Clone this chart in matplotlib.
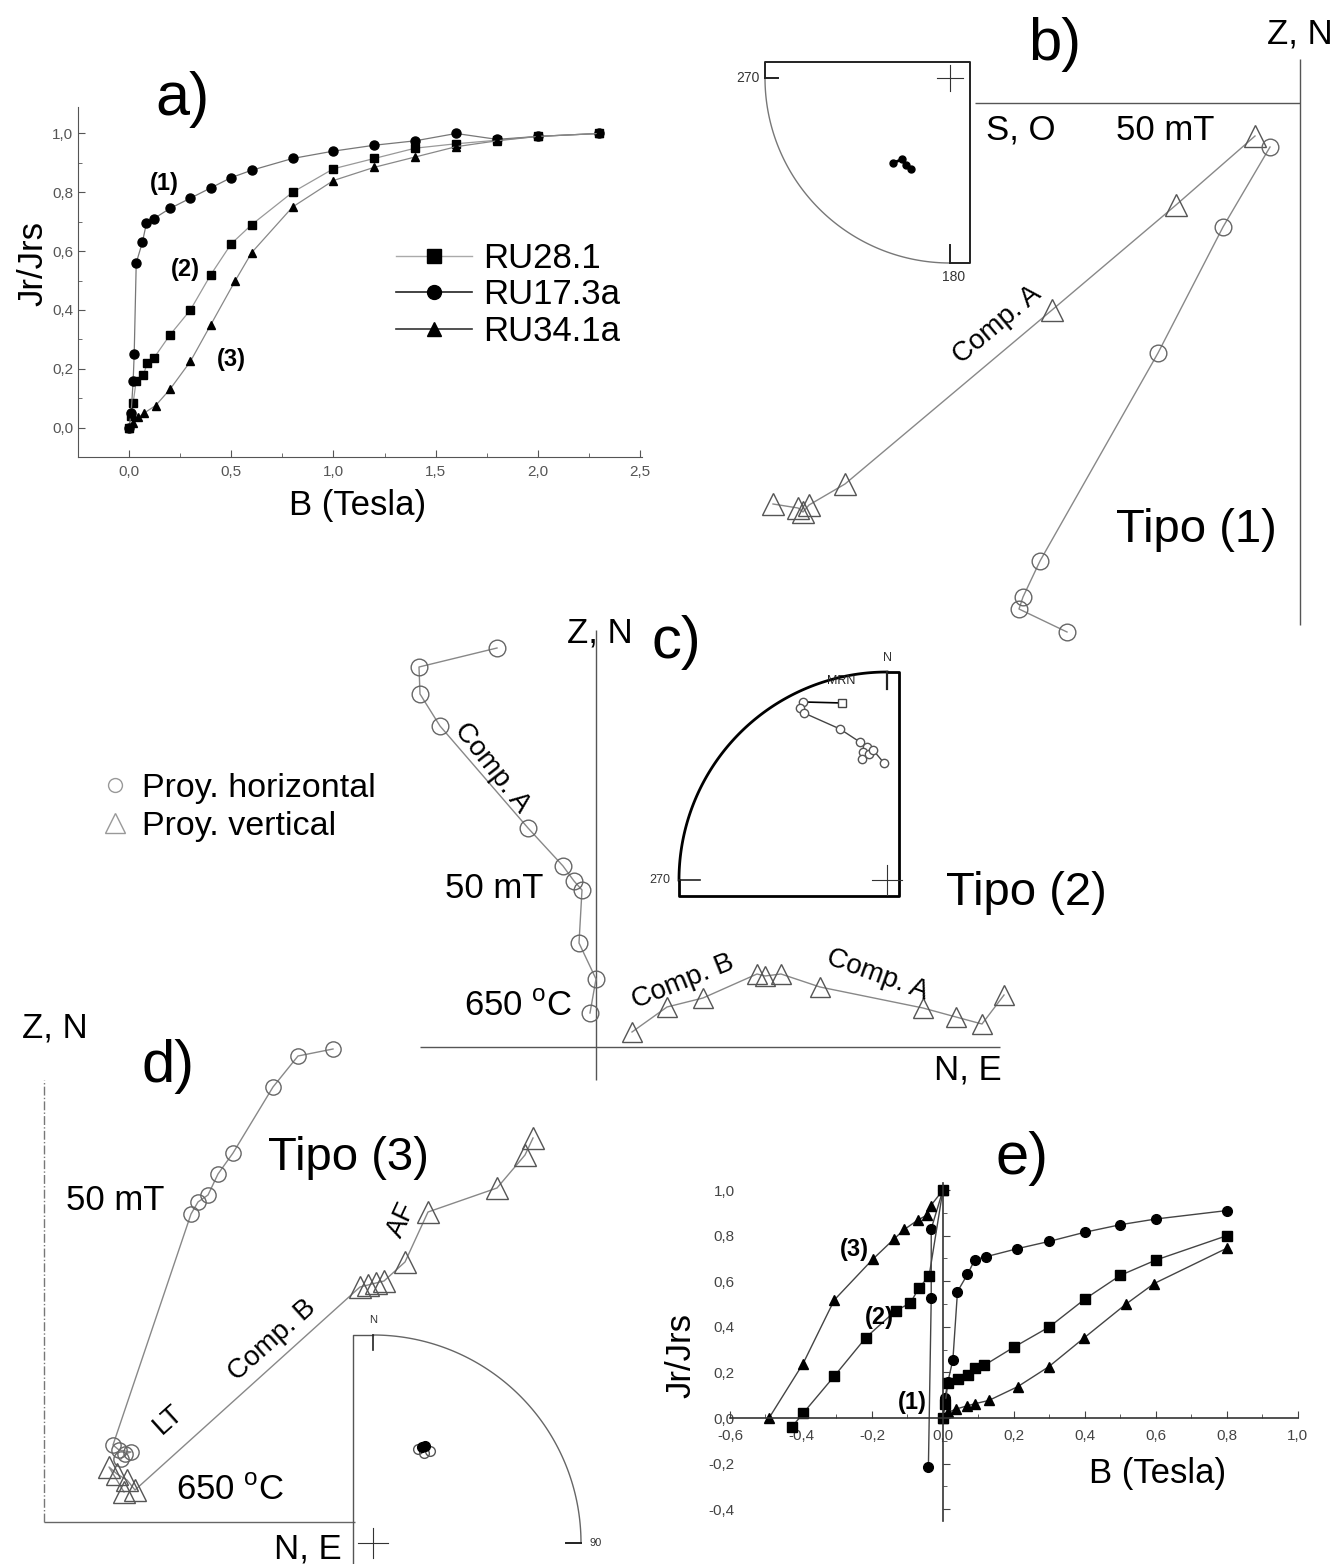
import numpy as np
import matplotlib
matplotlib.use('Agg')
import matplotlib.pyplot as plt
from matplotlib.lines import Line2D
from matplotlib.ticker import MultipleLocator, FuncFormatter

plt.rcParams['font.family'] = ['Liberation Sans', 'DejaVu Sans']
plt.rcParams['mathtext.fontset'] = 'custom'
plt.rcParams['mathtext.rm'] = 'Liberation Sans'

W, H = 1337, 1564

# ---------------- a) IRM acquisition ----------------
a_B_17 = [0.0, 0.01, 0.02, 0.025, 0.035, 0.065, 0.085, 0.12, 0.2, 0.3, 0.4, 0.5, 0.6, 0.8, 1.0, 1.2, 1.4, 1.6, 1.8, 2.0, 2.3]
a_J_17 = [0.0, 0.05, 0.16, 0.25, 0.56, 0.63, 0.695, 0.71, 0.745, 0.78, 0.815, 0.85, 0.875, 0.915, 0.94, 0.96, 0.975, 1.0, 0.98, 0.99, 1.0]
a_B_28 = [0.0, 0.01, 0.02, 0.035, 0.07, 0.09, 0.12, 0.2, 0.3, 0.4, 0.5, 0.6, 0.8, 1.0, 1.2, 1.4, 1.6, 1.8, 2.0, 2.3]
a_J_28 = [0.0, 0.04, 0.085, 0.16, 0.18, 0.22, 0.235, 0.315, 0.40, 0.52, 0.625, 0.69, 0.80, 0.88, 0.915, 0.95, 0.965, 0.977, 0.99, 1.0]
a_B_34 = [0.0, 0.02, 0.045, 0.075, 0.13, 0.2, 0.3, 0.4, 0.52, 0.6, 0.8, 1.0, 1.2, 1.4, 1.6, 1.8, 2.0, 2.3]
a_J_34 = [0.0, 0.017, 0.035, 0.05, 0.075, 0.13, 0.225, 0.35, 0.50, 0.595, 0.75, 0.84, 0.885, 0.92, 0.955, 0.975, 0.99, 1.0]
a_names = ['RU28.1', 'RU17.3a', 'RU34.1a']

# ---------------- e) acquisition + back field ----------------
e_acq_B1 = [0.0, 0.006, 0.014, 0.028, 0.041, 0.069, 0.09, 0.12, 0.21, 0.3, 0.4, 0.5, 0.6, 0.8]
e_acq_J1 = [0.0, 0.09, 0.16, 0.255, 0.555, 0.63, 0.695, 0.707, 0.743, 0.775, 0.815, 0.848, 0.873, 0.91]
e_bf_B1 = [0.0, -0.033, -0.033, -0.041]
e_bf_J1 = [1.0, 0.83, 0.525, -0.215]
e_acq_B2 = [0.0, 0.006, 0.014, 0.043, 0.07, 0.091, 0.117, 0.2, 0.3, 0.4, 0.5, 0.6, 0.8]
e_acq_J2 = [0.0, 0.06, 0.155, 0.17, 0.187, 0.22, 0.232, 0.311, 0.4, 0.522, 0.626, 0.693, 0.8]
e_bf_B2 = [0.0, -0.039, -0.068, -0.092, -0.133, -0.217, -0.306, -0.394, -0.426]
e_bf_J2 = [1.0, 0.623, 0.57, 0.504, 0.471, 0.353, 0.184, 0.021, -0.04]
e_acq_B3 = [0.0, 0.014, 0.038, 0.067, 0.09, 0.129, 0.211, 0.298, 0.398, 0.515, 0.595, 0.8]
e_acq_J3 = [0.0, 0.025, 0.04, 0.053, 0.063, 0.077, 0.138, 0.225, 0.352, 0.499, 0.59, 0.745]
e_bf_B3 = [0.0, -0.035, -0.045, -0.07, -0.109, -0.138, -0.198, -0.306, -0.394, -0.49]
e_bf_J3 = [1.0, 0.93, 0.89, 0.869, 0.827, 0.785, 0.696, 0.518, 0.239, 0.0]

# ---------------- b) Zijderveld, tipo (1) (arbitrary units) ----------------
b_hor_x = [-0.30, -0.77, -1.42, -2.60, -2.77, -2.81, -2.33]
b_hor_y = [-0.44, -1.24, -2.50, -4.58, -4.94, -5.06, -5.29]
b_ver_x = [-0.45, -1.24, -2.48, -4.55, -4.91, -4.97, -5.02, -5.27]
b_ver_y = [-0.33, -1.02, -2.07, -3.81, -4.02, -4.09, -4.05, -4.01]
b_net_x = [-0.31, -0.26, -0.24, -0.21]
b_net_y = [-0.46, -0.44, -0.47, -0.49]

# ---------------- c) Zijderveld, tipo (2) ----------------
c_hor_x = [-0.99, -1.77, -1.76, -1.56, -0.68, -0.33, -0.22, -0.14, -0.17, 0.00, -0.06]
c_hor_y = [3.99, 3.80, 3.53, 3.21, 2.19, 1.81, 1.66, 1.57, 1.04, 0.68, 0.34]
c_ver_x = [4.08, 3.86, 3.60, 3.27, 2.24, 1.85, 1.69, 1.61, 1.07, 0.71, 0.36]
c_ver_y = [0.52, 0.23, 0.30, 0.39, 0.60, 0.73, 0.71, 0.73, 0.49, 0.40, 0.15]
c_net_mrn = (-0.216, 0.851)
c_net_x = [-0.404, -0.418, -0.399, -0.226, -0.130, -0.096, -0.115, -0.120, -0.087, -0.067, -0.014]
c_net_y = [0.856, 0.827, 0.803, 0.726, 0.663, 0.639, 0.615, 0.582, 0.606, 0.625, 0.562]

# ---------------- d) Zijderveld, tipo (3) ----------------
d_hor_x = [2.89, 2.54, 2.29, 1.89, 1.74, 1.64, 1.54, 1.47, 0.69, 0.75, 0.87, 0.81, 0.77]
d_hor_y = [4.73, 4.66, 4.35, 3.69, 3.48, 3.27, 3.20, 3.08, 0.77, 0.72, 0.70, 0.68, 0.63]
d_ver_x = [4.89, 4.81, 4.53, 3.84, 3.61, 3.40, 3.32, 3.24, 3.16, 0.91, 0.83, 0.73, 0.65, 0.80]
d_ver_y = [3.84, 3.67, 3.34, 3.10, 2.60, 2.41, 2.39, 2.37, 2.35, 0.32, 0.42, 0.48, 0.55, 0.30]
d_net_fill_x = [0.236, 0.25]
d_net_fill_y = [0.462, 0.465]
d_net_open_x = [0.216, 0.274, 0.245]
d_net_open_y = [0.452, 0.442, 0.435]

fig = plt.figure(figsize=(W / 100, H / 100), dpi=100)


def box(x0, y0, x1, y1):
    return [x0 / W, 1 - y1 / H, (x1 - x0) / W, (y1 - y0) / H]


def label(x, y, s, size=25, **kw):
    kw.setdefault('ha', 'center')
    kw.setdefault('va', 'center')
    fig.text(x / W, 1 - y / H, s, fontsize=size, **kw)


comma = FuncFormatter(lambda v, p: ('%.1f' % round(v, 2)).replace('.', ',').replace('-0,0', '0,0'))


def zij_axes(ox, oy, x0, y0, x1, y1):
    ax = fig.add_axes(box(x0, y0, x1, y1))
    ax.set_xlim((x0 - ox) / 100, (x1 - ox) / 100)
    ax.set_ylim((oy - y1) / 100, (oy - y0) / 100)
    ax.axis('off')
    return ax


def net_axes(cx, cy, r):
    ax = fig.add_axes(box(cx - 1.25 * r, cy - 1.25 * r, cx + 1.25 * r, cy + 1.25 * r))
    ax.set_xlim(-1.25, 1.25)
    ax.set_ylim(-1.25, 1.25)
    ax.axis('off')
    return ax


def cross(ax, s=0.07):
    ax.plot([-s, s], [0, 0], color='#333', lw=0.8)
    ax.plot([0, 0], [-s, s], color='#333', lw=0.8)


hor_style = dict(color='#888', lw=1.0, marker='o', mfc='none', mec='#666', mew=1.0)
ver_style = dict(color='#888', lw=1.0, marker='^', mfc='none', mec='#555', mew=1.0)

# ================= a) =================
ax = fig.add_axes(box(78, 107, 642, 457))
ax.set_facecolor('none')
ax.set_xlim(-0.25, 2.51)
ax.set_ylim(-0.1, 1.09)
for s in ['top', 'right']:
    ax.spines[s].set_visible(False)
for s in ['left', 'bottom']:
    ax.spines[s].set_color('#555')
ax.plot(a_B_28, a_J_28, '-s', color='#999', lw=0.9, mfc='k', mec='k', ms=6)
ax.plot(a_B_17, a_J_17, '-o', color='#777', lw=0.9, mfc='k', mec='k', ms=6.5)
ax.plot(a_B_34, a_J_34, '-^', color='#888', lw=0.9, mfc='k', mec='k', ms=6)
ax.xaxis.set_major_locator(MultipleLocator(0.5))
ax.xaxis.set_minor_locator(MultipleLocator(0.25))
ax.yaxis.set_major_locator(MultipleLocator(0.2))
ax.yaxis.set_minor_locator(MultipleLocator(0.1))
ax.xaxis.set_major_formatter(comma)
ax.yaxis.set_major_formatter(comma)
ax.tick_params(which='both', direction='in', colors='#555', labelsize=11)
ax.tick_params(which='major', length=5)
ax.tick_params(which='minor', length=3)
ax.tick_params(axis='x', pad=6)
ax.text(0.17, 0.83, '(1)', fontsize=17, fontweight='bold', ha='center', va='center')
ax.text(0.275, 0.537, '(2)', fontsize=17, fontweight='bold', ha='center', va='center')
ax.text(0.50, 0.23, '(3)', fontsize=17, fontweight='bold', ha='center', va='center')
hs = [Line2D([], [], color='#aaa', lw=1, marker='s', mfc='k', mec='k', ms=10),
      Line2D([], [], color='#222', lw=1.2, marker='o', mfc='k', mec='k', ms=10),
      Line2D([], [], color='#333', lw=1.2, marker='^', mfc='k', mec='k', ms=10)]
ax.legend(hs, a_names, loc='upper left', bbox_to_anchor=(396 / W, 1 - 242 / H),
          bbox_transform=fig.transFigure, frameon=False, fontsize=25,
          handlelength=2.2, handletextpad=0.3, labelspacing=0.1, borderpad=0, borderaxespad=0)
label(182, 100, 'a)', 44)
label(33, 263, 'Jr/Jrs', 25, rotation=90)
label(358, 506, 'B (Tesla)', 25)

# ================= b) =================
ax = zij_axes(1300, 103, 740, 20, 1337, 660)
ax.vlines(0, -5.22, 0.44, color='#555', lw=1)
ax.hlines(0, -3.25, 0, color='#555', lw=1)
ax.plot(b_ver_x, b_ver_y, ms=16, **ver_style)
ax.plot(b_hor_x, b_hor_y, ms=12, **hor_style)

ax = net_axes(950, 78, 185)
th = np.linspace(np.pi, 1.5 * np.pi, 100)
ax.plot(np.cos(th), np.sin(th), color='#777', lw=1)
ax.plot([-1, -1, 0.108, 0.108, 0], [0, 0.086, 0.086, -1.0, -1.0], color='#222', lw=1.4)
ax.plot([-1, -0.93], [0, 0], color='#222', lw=1.4)
ax.plot([0, 0], [-1, -0.9], color='#222', lw=1.4)
cross(ax)
ax.text(-1.03, 0, '270', fontsize=10, ha='right', va='center', color='#333')
ax.text(0.02, -1.04, '180', fontsize=10, ha='center', va='top', color='#333')
ax.plot(b_net_x, b_net_y, '-o', color='k', lw=2, ms=5)

label(1055, 45, 'b)', 43)
label(1300, 34, 'Z, N', 25)
label(1021, 130, 'S, O', 25)
label(1165, 130, '50 mT', 25)
label(1196, 530, 'Tipo (1)', 34)
label(997, 325, 'Comp. A', 20, rotation=40)

# ================= c) =================
ax = zij_axes(596, 1047, 400, 620, 1040, 1090)
ax.vlines(0, -0.33, 4.17, color='#555', lw=1)
ax.hlines(0, -1.76, 4.04, color='#555', lw=1)
ax.plot(c_ver_x, c_ver_y, ms=15, **ver_style)
ax.plot(c_hor_x, c_hor_y, ms=12, **hor_style)

ax = net_axes(887, 880, 208)
th = np.linspace(0.5 * np.pi, np.pi, 100)
ax.plot(np.cos(th), np.sin(th), color='k', lw=2)
ax.plot([0, 0.058, 0.058, -1, -1], [1, 1, -0.077, -0.077, 0], color='k', lw=2)
ax.plot([-1, -0.9], [0, 0], color='#222', lw=1.2)
ax.plot([0, 0], [1, 0.92], color='#222', lw=1.6)
cross(ax)
ax.text(-1.04, 0, '270', fontsize=9, ha='right', va='center', color='#333')
ax.text(0.0, 1.04, 'N', fontsize=9, ha='center', va='bottom', color='#333')
ax.text(-0.22, 0.93, 'MRN', fontsize=9, ha='center', va='bottom', color='#222')
ax.plot([c_net_mrn[0], c_net_x[0]], [c_net_mrn[1], c_net_y[0]], color='k', lw=1.2)
ax.plot([c_net_mrn[0]], [c_net_mrn[1]], 's', mfc='white', mec='#444', ms=6)
ax.plot(c_net_x, c_net_y, '-o', color='#444', lw=1, mfc='white', mec='#555', ms=6)

label(600, 633, 'Z, N', 25)
label(676, 643, 'c)', 43)
label(494, 888, '50 mT', 25)
label(518, 1006, r'650 $^{\mathrm{o}}$C', 25)
label(492, 768, 'Comp. A', 20, rotation=-52)
label(683, 982, 'Comp. B', 20, rotation=22)
label(877, 975, 'Comp. A', 20, rotation=-20)
label(968, 1070, 'N, E', 25)
label(1026, 893, 'Tipo (2)', 34)

leg = [Line2D([], [], ls='none', marker='o', mfc='none', mec='#999', ms=10),
       Line2D([], [], ls='none', marker='^', mfc='none', mec='#999', ms=14)]
fig.legend(leg, ['Proy. horizontal', 'Proy. vertical'], loc='upper left',
           bbox_to_anchor=(98 / W, 1 - 773 / H), frameon=False, fontsize=24.5,
           handlelength=1.0, handletextpad=0.3, labelspacing=0.2, borderpad=0, borderaxespad=0)

# ================= d) =================
ax = zij_axes(44, 1522, 20, 1000, 620, 1564)
ax.vlines(0, 0, 4.42, color='#777', lw=1, linestyles='-.')
ax.hlines(0, 0, 3.11, color='#666', lw=1)
ax.plot(d_hor_x, d_hor_y, ms=11, **hor_style)
ax.plot(d_ver_x, d_ver_y, ms=16, **ver_style)

ax = net_axes(373, 1543, 208)
th = np.linspace(0, 0.5 * np.pi, 100)
ax.plot(np.cos(th), np.sin(th), color='#666', lw=1)
ax.plot([0, -0.096, -0.096], [1, 1, -0.2], color='#555', lw=1)
ax.plot([0, 0], [1, 0.93], color='#222', lw=1.2)
ax.plot([1, 0.93], [0, 0], color='#222', lw=1.4)
cross(ax)
ax.text(0.0, 1.05, 'N', fontsize=8, ha='center', va='bottom', color='#333')
ax.text(1.04, 0, '90', fontsize=8, ha='left', va='center', color='#333')
ax.plot(d_net_open_x, d_net_open_y, 'o', mfc='none', mec='#555', ms=7, ls='none')
ax.plot(d_net_fill_x, d_net_fill_y, 'o', color='k', ms=7, ls='none')

label(55, 1028, 'Z, N', 25)
label(168, 1066, 'd)', 43)
label(348, 1158, 'Tipo (3)', 34)
label(115, 1200, '50 mT', 25)
label(402, 1220, 'AF', 20, rotation=65)
label(272, 1340, 'Comp. B', 20, rotation=42)
label(168, 1420, 'LT', 20, rotation=42)
label(230, 1490, r'650 $^{\mathrm{o}}$C', 25)
label(308, 1549, 'N, E', 25)

# ================= e) =================
ax = fig.add_axes(box(725, 1180, 1305, 1525))
ax.set_facecolor('none')
ax.set_xlim(-0.614, 1.02)
ax.set_ylim(-0.469, 1.044)
for s in ['top', 'right']:
    ax.spines[s].set_visible(False)
ax.spines['left'].set_position(('data', 0))
ax.spines['bottom'].set_position(('data', 0))
ax.spines['bottom'].set_bounds(-0.6, 1.0)
ax.spines['left'].set_bounds(-0.45, 1.03)
for s in ['left', 'bottom']:
    ax.spines[s].set_color('#333')
    ax.spines[s].set_linewidth(1.2)
lk = dict(color='#444', lw=1.0, mfc='k', mec='k')
ax.plot(e_acq_B1, e_acq_J1, '-o', ms=7, **lk)
ax.plot(e_bf_B1, e_bf_J1, '-o', ms=7, **lk)
ax.plot(e_acq_B2, e_acq_J2, '-s', ms=6.5, **lk)
ax.plot(e_bf_B2, e_bf_J2, '-s', ms=6.5, **lk)
ax.plot(e_acq_B3, e_acq_J3, '-^', ms=6.5, **lk)
ax.plot(e_bf_B3, e_bf_J3, '-^', ms=6.5, **lk)
ax.xaxis.set_major_locator(MultipleLocator(0.2))
ax.xaxis.set_minor_locator(MultipleLocator(0.1))
ax.yaxis.set_minor_locator(MultipleLocator(0.1))
ax.set_yticks([-0.4, -0.2, 0.0, 0.2, 0.4, 0.6, 0.8, 1.0])
ax.xaxis.set_major_formatter(comma)
ax.yaxis.set_major_formatter(comma)
ax.tick_params(which='both', direction='in', colors='#444', labelsize=11)
ax.tick_params(which='major', length=5)
ax.tick_params(which='minor', length=3)
ax.tick_params(axis='y', pad=150)
ax.tick_params(axis='x', pad=8)
ax.text(-0.25, 0.74, '(3)', fontsize=17, fontweight='bold', ha='center', va='center')
ax.text(-0.18, 0.44, '(2)', fontsize=17, fontweight='bold', ha='center', va='center')
ax.text(-0.085, 0.07, '(1)', fontsize=17, fontweight='bold', ha='center', va='center')
label(1022, 1158, 'e)', 43)
label(681, 1355, 'Jr/Jrs', 25, rotation=90)
label(1158, 1473, 'B (Tesla)', 25)

fig.savefig('out.png', dpi=100)
